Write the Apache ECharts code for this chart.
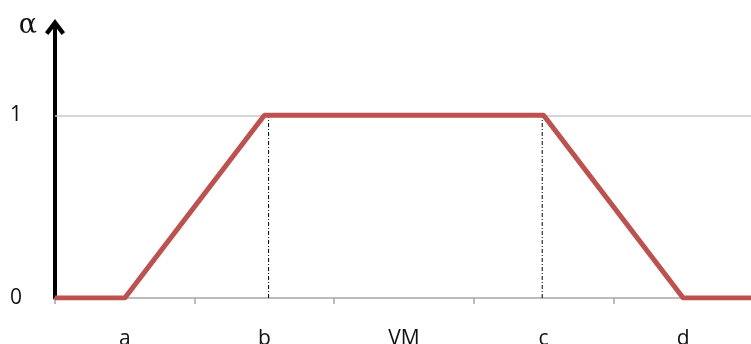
<!DOCTYPE html>
<html><head><meta charset="utf-8">
<script src="https://cdn.jsdelivr.net/npm/echarts@6/dist/echarts.min.js"></script>
<style>html,body{margin:0;padding:0;background:#fff}#c{width:751px;height:344px}</style>
</head><body><div id="c"></div>
<script>
const categories = ['a', 'b', 'VM', 'c', 'd'];
const yTickLabels = ['0', '1'];
const yTickValues = [0, 1];
// membership function points: [x position in category units, alpha]
const trapezoid = [[0, 0], [0.5, 0], [1.5, 1], [3.5, 1], [4.5, 0], [5, 0]];
const dropB = [[1.53, 0], [1.53, 1]];
const dropC = [[3.49, 0], [3.49, 1]];
const gridLevel = 1;

const chart = echarts.init(document.getElementById('c'));
chart.setOption({
  animation: false,
  grid: { left: 55, right: -2, top: 24, bottom: 46, containLabel: false, outerBoundsMode: 'none' },
  xAxis: [{
    type: 'category', data: categories, boundaryGap: true,
    axisLine: { show: true, lineStyle: { color: '#a6a6a6', width: 1.5 } },
    axisTick: { show: true, length: 6, lineStyle: { color: '#a6a6a6', width: 1.5 } },
    axisLabel: { color: '#111', fontSize: 21, margin: 31, fontFamily: 'Open Sans' },
    splitLine: { show: false }
  }, {
    type: 'value', min: 0, max: 5, show: false
  }],
  yAxis: {
    type: 'value', min: 0, max: 1.5, interval: 1,
    name: 'α', nameLocation: 'end', nameGap: -2,
    nameTextStyle: { fontFamily: 'DejaVu Serif', fontSize: 27, color: '#111', align: 'right', verticalAlign: 'middle', padding: [0, 18, 0, 0] },
    axisLine: { show: true, lineStyle: { color: '#000', width: 4 },
      symbol: ['none', 'path://M0,8 L6,0 L12,8 L10,9.6 L6,4.4 L2,9.6 Z'], symbolSize: [20, 16], symbolOffset: [0, -3] },
    axisTick: { show: false },
    splitLine: { show: false },
    axisLabel: { color: '#111', fontSize: 21, margin: 33, fontFamily: 'Open Sans',
      formatter: v => { const i = yTickValues.indexOf(v); return i >= 0 ? yTickLabels[i] : ''; } }
  },
  series: [{
    type: 'line', xAxisIndex: 1, data: dropB, symbol: 'none', silent: true,
    lineStyle: { color: '#000', width: 1, type: [4, 2, 1, 2] }
  }, {
    type: 'line', xAxisIndex: 1, data: dropC, symbol: 'none', silent: true,
    lineStyle: { color: '#000', width: 1, type: [4, 2, 1, 2] }
  }, {
    type: 'line', xAxisIndex: 1, data: trapezoid, symbol: 'none', z: 5,
    lineStyle: { color: '#c0504d', width: 5 },
    markLine: { silent: true, symbol: 'none', label: { show: false },
      lineStyle: { color: '#c8c8c8', width: 1.5, type: 'solid' },
      data: [{ yAxis: gridLevel }], z: 1 }
  }]
});
</script></body></html>
